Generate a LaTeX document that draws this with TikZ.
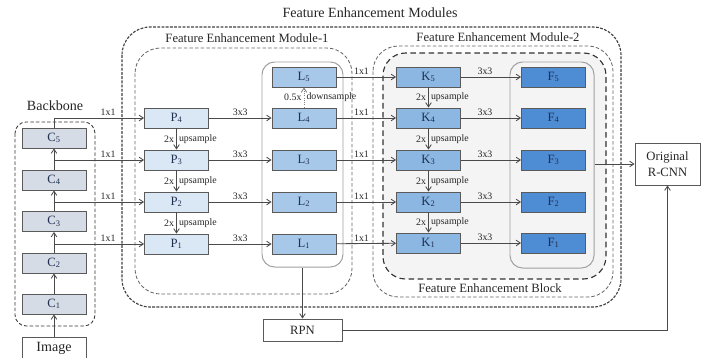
\documentclass[tikz,border=0pt]{standalone}
\usepackage{fontspec}
\setmainfont{Liberation Serif}
\usetikzlibrary{arrows.meta,positioning}
\definecolor{cfill}{HTML}{D6DCE6}
\definecolor{pfill}{HTML}{DAE7F5}
\definecolor{lfill}{HTML}{A7C8E9}
\definecolor{kfill}{HTML}{8BB7E2}
\definecolor{ffill}{HTML}{4E8CD4}
\definecolor{boxline}{HTML}{5A5A5A}
\definecolor{navytext}{HTML}{1F3050}
\definecolor{arrowgray}{HTML}{4A4A4A}
\newcommand{\pxu}{0.025cm}
\tikzset{
  blk/.style={draw=boxline, line width=0.6pt, minimum width=64*\pxu, minimum height=20*\pxu, inner sep=0pt, text=navytext, font=\small},
  cblk/.style={blk, fill=cfill},
  pblk/.style={blk, fill=pfill},
  lblk/.style={blk, fill=lfill},
  kblk/.style={blk, fill=kfill},
  fblk/.style={blk, fill=ffill},
  plainblk/.style={draw=boxline, fill=white, line width=0.6pt, inner sep=0pt, font=\small, align=center, text=black!85},
  group/.style={draw=gray!75, line width=0.7pt, rounded corners=9pt},
  outerframe/.style={draw=black!75, line width=0.8pt, dash pattern=on 2pt off 1pt, rounded corners=20pt},
  modframe/.style={draw=gray!80!black, line width=0.6pt, dash pattern=on 2.5pt off 1.5pt, rounded corners=18pt},
  blockframe/.style={draw=black!80, line width=0.8pt, dash pattern=on 4pt off 2.5pt, fill=gray!9, rounded corners=16pt},
  arrow/.style={-{Straight Barb[length=3pt,width=4pt]}, draw=arrowgray, line width=0.6pt},
  txt/.style={font=\scriptsize, text=black!85, inner sep=1.5pt}
}
\begin{document}
\begin{tikzpicture}[x=\pxu, y=-\pxu]
  \useasboundingbox (0,0) rectangle (703,357);

  % frames
  \draw[outerframe] (122,27) rectangle (621,307);
  \draw[modframe] (135,48) rectangle (352,294);
  \draw[modframe] (373,46) rectangle (613,297);
  \draw[blockframe] (383,53) rectangle (606,279);
  \draw[modframe, rounded corners=8pt, draw=black!80] (15,122) rectangle (95,326);
  \node[group, minimum width=81*\pxu, minimum height=205*\pxu] (lgroup) at (302.5,164.5) {};
  \node[group, minimum width=84*\pxu, minimum height=206*\pxu] (fgroup) at (552,165) {};

  \node[txt, font=\normalsize] (mods) at (370,13) {Feature Enhancement Modules};
  \node[txt, font=\small] (mod1) at (247,38) {Feature Enhancement Module-1};
  \node[txt, font=\small] (mod2) at (498,37) {Feature Enhancement Module-2};
  \node[txt, font=\small] (febtitle) at (490,288) {Feature Enhancement Block};
  \node[txt, font=\normalsize] (bbtitle) at (55,106) {Backbone};

  % backbone
  \node[cblk] (C5) at (54,138) {C\textsubscript{5}};
  \node[cblk] (C4) at (54,180) {C\textsubscript{4}};
  \node[cblk] (C3) at (54,221.5) {C\textsubscript{3}};
  \node[cblk] (C2) at (54,263) {C\textsubscript{2}};
  \node[cblk] (C1) at (54,304) {C\textsubscript{1}};
  \node[plainblk, minimum width=64*\pxu, minimum height=22*\pxu, font=\normalsize] (img) at (54,348) {Image};

  % columns
  \foreach \i/\y in {4/118,3/160,2/202,1/244}{
    \node[pblk] (P\i) at (176.5,\y) {P\textsubscript{\i}};
    \node[lblk] (L\i) at (304,\y) {L\textsubscript{\i}};
  }
  \node[lblk] (L5) at (304,77) {L\textsubscript{5}};
  \foreach \i/\y in {5/77,4/118,3/160,2/202,1/243}{
    \node[kblk] (K\i) at (428.5,\y) {K\textsubscript{\i}};
    \node[fblk] (F\i) at (553.5,\y) {F\textsubscript{\i}};
  }

  \node[plainblk, minimum width=79*\pxu, minimum height=22*\pxu] (rpn) at (302.5,330) {RPN};
  \node[plainblk, minimum width=65*\pxu, minimum height=42*\pxu] (rcnn) at (667.5,164) {Original\\R-CNN};

  % backbone arrows
  \draw[arrow] (img) -- (C1);
  \foreach \a/\b in {C1/C2,C2/C3,C3/C4,C4/C5}
    \draw[arrow] (\a) -- (\b);
  \draw[arrow] (C5.north) |- node[txt, pos=0.8, above] {1x1} (P4.west);
  \foreach \c/\p in {C4/P3,C3/P2,C2/P1}
    \draw[arrow] (\c.north |- \p.west) -- node[txt, pos=0.6, above] {1x1} (\p.west);

  % top-down paths
  \foreach \a/\b in {P4/P3,P3/P2,P2/P1,K5/K4,K4/K3,K3/K2,K2/K1}
    \draw[arrow] (\a) -- node[txt, left] {2x} node[txt, right] {upsample} (\b);
  \draw[arrow, densely dotted, draw=gray] (L4) -- node[txt, left] {0.5x} node[txt, right] {downsample} (L5);

  % lateral arrows
  \foreach \i in {1,...,4}
    \draw[arrow] (P\i) -- node[txt, above] {3x3} (L\i);
  \foreach \i in {1,...,5}{
    \draw[arrow] (L\i) -- node[txt, above, pos=0.42] {1x1} (K\i);
    \draw[arrow] (K\i) -- node[txt, above, pos=0.4] {3x3} (F\i);
  }

  % heads
  \draw[arrow] (lgroup.south) -- (rpn.north);
  \draw[arrow] (rpn.east) -| (rcnn.south);
  \draw[arrow] (fgroup.east |- rcnn.west) -- (rcnn.west);
\end{tikzpicture}
\end{document}
